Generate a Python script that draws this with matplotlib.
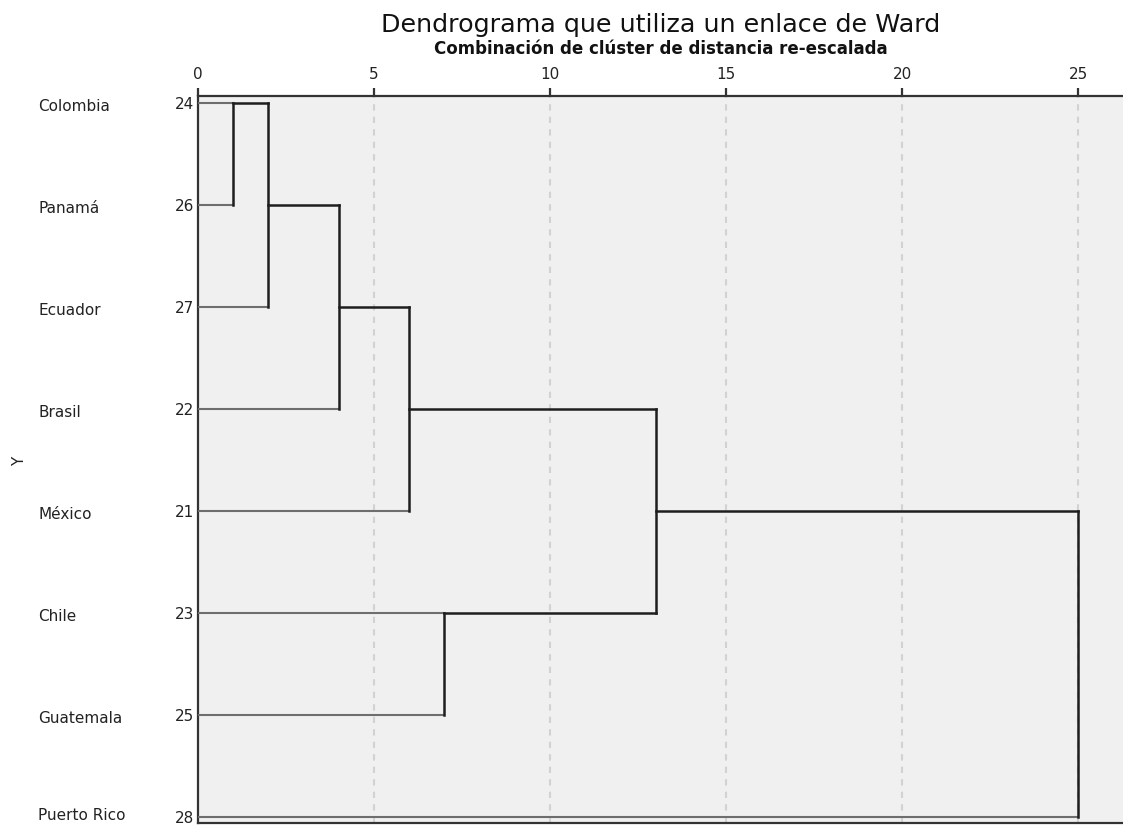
import matplotlib
matplotlib.use("Agg")
import matplotlib.pyplot as plt
import matplotlib.transforms as mtransforms
import math

# ---- data ----
countries = ["Colombia", "Panamá", "Ecuador", "Brasil", "México", "Chile", "Guatemala", "Puerto Rico"]
case_ids = ["24", "26", "27", "22", "21", "23", "25", "28"]
# merges: (child_a, child_b, rescaled distance); leaves are 0..7, new clusters 8..
merge_a = [0, 8, 9, 10, 5, 11, 13]
merge_b = [1, 2, 3, 4, 6, 12, 7]
merge_h = [1, 2, 4, 6, 7, 13, 25]
x_ticks = [0, 5, 10, 15, 20, 25]

title = "Dendrograma que utiliza un enlace de Ward"
subtitle = "Combinación de clúster de distancia re-escalada"

plt.rcParams['font.family'] = ['DejaVu Sans']

W, H = 1123, 825
fig = plt.figure(figsize=(W / 100, H / 100), dpi=100)
fig.patch.set_facecolor("white")

ax_left, ax_top, ax_bottom = 198, 96, 823
ax = fig.add_axes([ax_left / W, 1 - ax_bottom / H, 1 - ax_left / W, (ax_bottom - ax_top) / H])
ax.set_facecolor("#f0f0f0")

n = len(countries)
px_per_unit = 35.2
ax.set_xlim(0, (W - ax_left) / px_per_unit)
row_px = (817 - 103) / (n - 1)
ax.set_ylim(n - 1 + (ax_bottom - 817) / row_px, -(103 - ax_top) / row_px)

# grid
for t in x_ticks[1:]:
    ax.axvline(t, color="#d2d2d2", lw=1.5, ls=(0, (3, 3)), zorder=1)

# compute node positions and heights
pos = {i: i for i in range(n)}
hgt = {i: 0 for i in range(n)}
leaf_col = "#6e6e6e"
clus_col = "#1e1e1e"
for k, (a, b, h) in enumerate(zip(merge_a, merge_b, merge_h)):
    node = n + k
    for c in (a, b):
        col = leaf_col if c < n else clus_col
        lw = 1.5 if c < n else 1.8
        ax.plot([hgt[c], h], [pos[c], pos[c]], color=col, lw=lw, solid_capstyle="projecting", zorder=3)
    ax.plot([h, h], [pos[a], pos[b]], color=clus_col, lw=1.8, solid_capstyle="projecting", zorder=4)
    pos[node] = math.floor((pos[a] + pos[b]) / 2)
    hgt[node] = h

# axes styling
ax.spines["right"].set_visible(False)
for s in ["left", "top", "bottom"]:
    ax.spines[s].set_color("#333333")
    ax.spines[s].set_linewidth(1.6)

ax.xaxis.tick_top()
ax.set_xticks(x_ticks)
ax.set_xticklabels([str(t) for t in x_ticks])
ax.tick_params(axis="x", direction="out", length=6, width=1.6, color="#333333",
               labelsize=11, labelcolor="#222222", pad=4)
ax.set_yticks(range(n))
ax.set_yticklabels(case_ids)
ax.tick_params(axis="y", length=0, labelsize=11, labelcolor="#222222", pad=3)

trans = mtransforms.blended_transform_factory(fig.transFigure, ax.transData)
for i, name in enumerate(countries):
    dy = 0.03 if i < n - 1 else -0.01
    ax.text(38 / W, i + dy, name, transform=trans, ha="left", va="center",
            fontsize=11, color="#222222", clip_on=False)

fig.text(20 / W, 1 - 461 / H, "Y", rotation=90, ha="center", va="center", fontsize=11, color="#222222")

cx = (ax_left + W) / 2 / W
fig.text(cx, 1 - 32 / H, title, ha="center", va="baseline", fontsize=18.3,
         color="#111111")
fig.text(cx, 1 - 54 / H, subtitle, ha="center", va="baseline", fontsize=12,
         fontweight="bold", color="#111111")

fig.savefig("out.png", dpi=100, facecolor="white")
